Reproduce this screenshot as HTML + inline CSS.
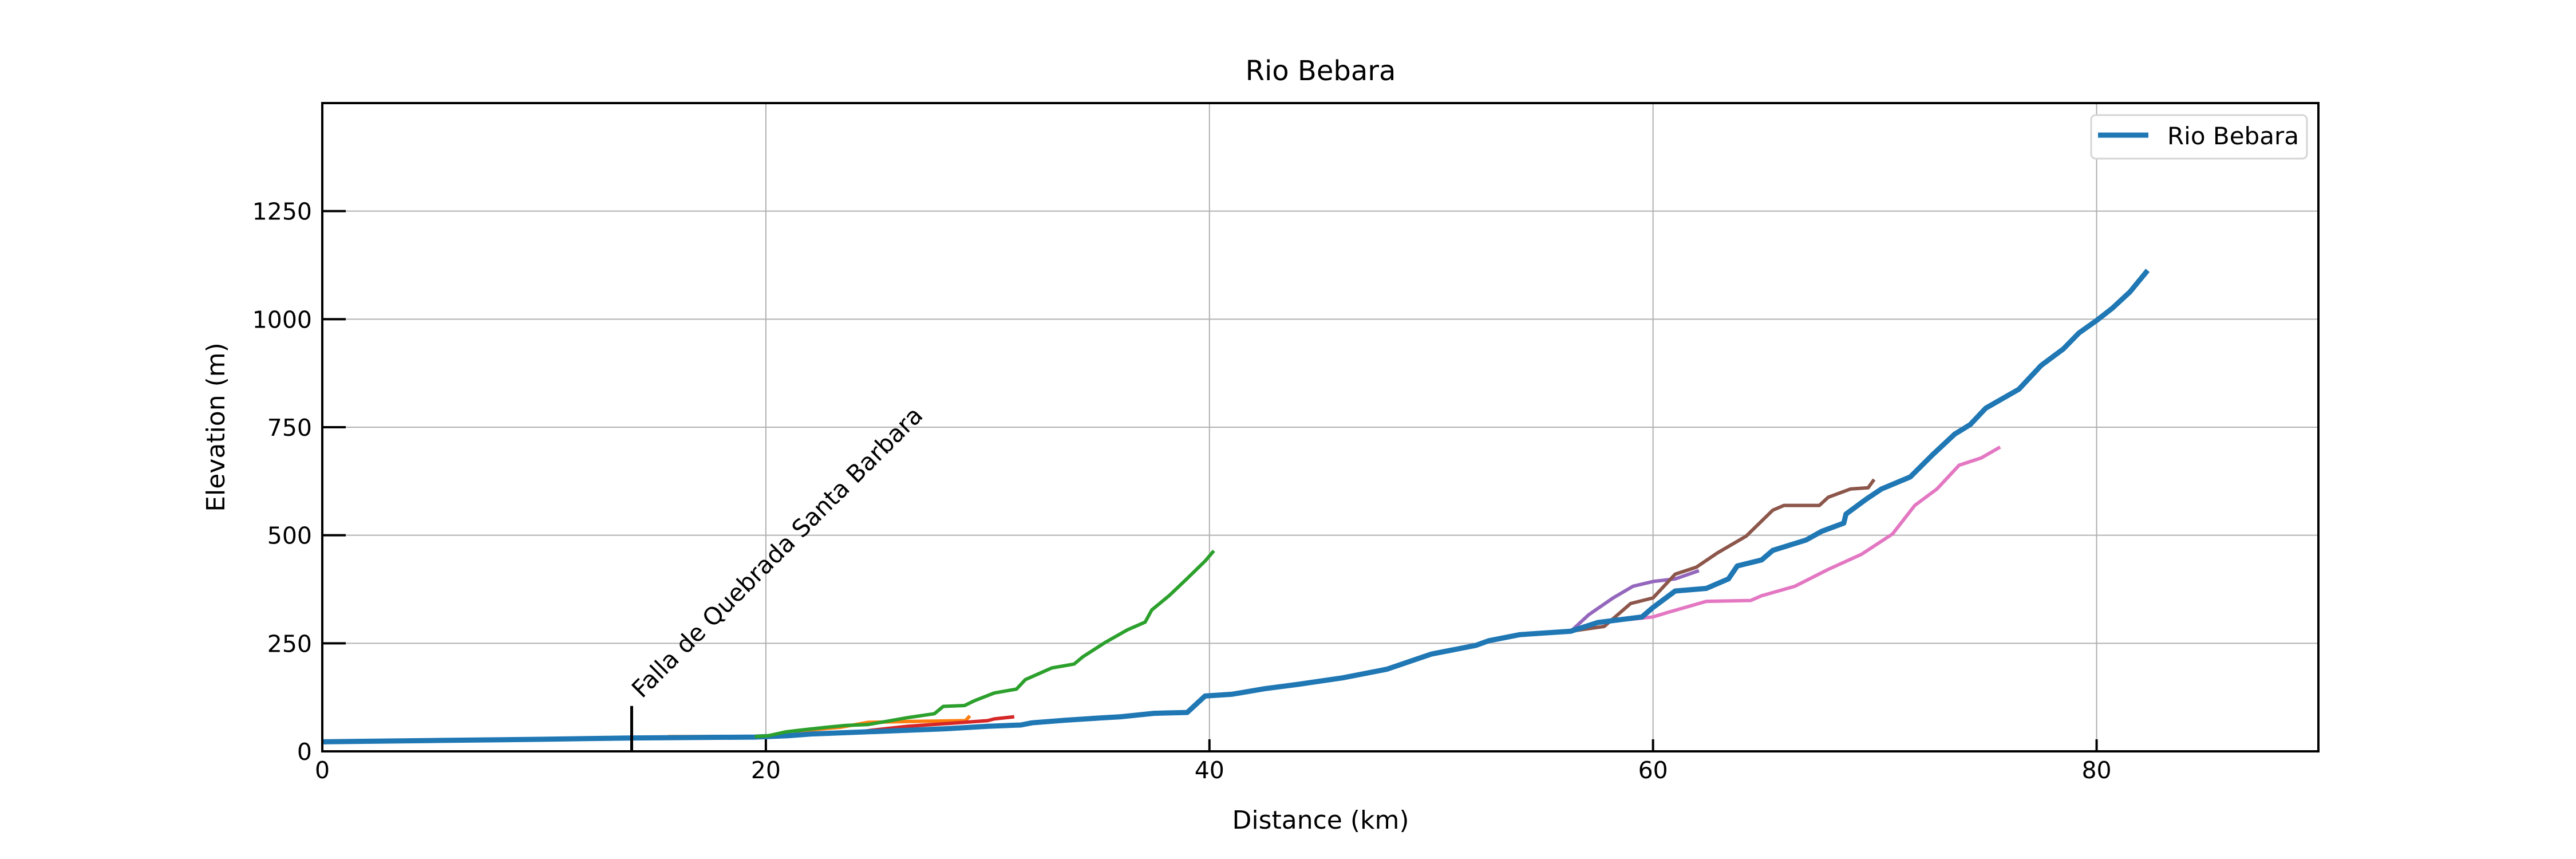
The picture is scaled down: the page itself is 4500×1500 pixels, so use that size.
<!DOCTYPE html>
<html><head><meta charset="utf-8"><style>
html,body{margin:0;padding:0;background:#fff;}
svg{display:block;font-family:"DejaVu Sans","Liberation Sans",sans-serif;}
</style></head><body>
<svg id="chart" width="4500" height="1500" viewBox="0 0 4500 1500" xmlns="http://www.w3.org/2000/svg">
<rect width="4500" height="1500" fill="#fff"/>
<g id="grid"></g>
<g id="series"></g>
<g id="axes"></g>
<text x="2307" y="140" font-size="48" text-anchor="middle">Rio Bebara</text>
<text x="2307" y="1447" font-size="44" text-anchor="middle">Distance (km)</text>
<text x="392" y="746" font-size="44" text-anchor="middle" transform="rotate(-90 392 746)">Elevation (m)</text>
<g>
<rect x="3653" y="201" width="377" height="76" rx="8" fill="#fff" stroke="#d5d5d5" stroke-width="3"/>
<line x1="3665" y1="236" x2="3753" y2="236" stroke="#1f77b4" stroke-width="9"/>
<text x="3786" y="252" font-size="42">Rio Bebara</text>
</g>
</svg>
<script>
const xTicks = [0, 20, 40, 60, 80];
const yTicks = [0, 250, 500, 750, 1000, 1250];
const faultKm = 13.95;
const faultTop = 105;
const faultLabel = "Falla de Quebrada Santa Barbara";
const mainX = [0,5,10,14,19.5,21,22,24,26,28,30,31.5,32,33.5,35,36,37.5,39,39.8,41,42.5,44,46,48,50,52,52.6,54,56.3,57.5,59.5,60,61,62.4,63.4,63.8,64.9,65.4,66.9,67.6,68.6,68.7,69.6,70.3,71.6,72.6,73.6,74.3,75,76.5,77.5,78.5,79.2,80,80.7,81.5,82.3];
const mainY = [22,25,28,31,33,36,40,44,48,52,58,61,66,72,77,80,88,90,128,132,145,155,170,190,225,245,256,270,278,298,311,333,371,377,399,429,443,465,489,509,528,549,583,607,635,686,734,756,794,838,893,931,968,997,1025,1063,1113];
const greenX = [19.5,20.1,20.9,21.9,22.8,23.6,24.6,25.4,26.4,27.6,28,28.96,29.4,30.3,31.3,31.7,32.9,33.9,34.3,35.3,36.3,37.1,37.4,38.2,39,39.8,40.2];
const greenY = [34,36,45,51,56,60,62,69,78,87,104,106,117,135,144,166,193,202,219,252,281,299,327,361,400,440,464];
const orangeX = [15.6,19.5,21.1,21.9,23.4,24.6,26.4,29,29.2];
const orangeY = [34,34,36,49,56,67,69,71,82];
const redX = [23.8,24.8,26.4,28.4,30,30.3,31.2];
const redY = [42,49,58,65,71,75,80];
const purpleX = [56.3,57.1,58.2,59.1,60,61,62.07];
const purpleY = [278,316,355,382,393,399,418];
const brownX = [56.3,57.8,58.99,60,61,61.95,62.9,64.2,65.4,65.9,67.5,67.9,68.9,69.7,69.97];
const brownY = [278,289,342,355,410,426,459,498,558,569,569,588,607,610,629];
const pinkX = [58.9,60,60.7,62.4,64.4,64.9,66.4,67.9,69.4,70.8,71.8,72.8,73.8,74.8,75.65];
const pinkY = [305,311,322,347,349,360,382,421,456,503,569,607,662,679,704];

const L=563,R=4050,T=180,B=1312,XMAX=90,YMAX=1500;
function sx(v){return L+(v/XMAX)*(R-L);}
function sy(v){return B-(v/YMAX)*(B-T);}
const NS="http://www.w3.org/2000/svg";
function mk(tag,attrs,parent){const e=document.createElementNS(NS,tag);for(const k in attrs)e.setAttribute(k,attrs[k]);parent.appendChild(e);return e;}
const grid=document.getElementById('grid'),axes=document.getElementById('axes'),series=document.getElementById('series');
xTicks.forEach(t=>{
  if(t>0){const g=mk('line',{x1:sx(t),x2:sx(t),y1:T,y2:B,stroke:'#b0b0b0','stroke-width':2},grid);
  
  }
  const tk=mk('line',{x1:sx(t),x2:sx(t),y1:B,y2:B-21,stroke:'#000','stroke-width':4},axes);
  
  
  const lb=mk('text',{x:sx(t),y:B+47,'font-size':41,'text-anchor':'middle'},axes);lb.textContent=t;
  
  
});
yTicks.forEach(t=>{
  if(t>0){const g=mk('line',{x1:L,x2:R,y1:sy(t),y2:sy(t),stroke:'#b0b0b0','stroke-width':2},grid);
  
  }
  const tk=mk('line',{x1:L,x2:L+41,y1:sy(t),y2:sy(t),stroke:'#000','stroke-width':4},axes);
  
  
  const lb=mk('text',{x:L-18,y:sy(t)+15,'font-size':41,'text-anchor':'end'},axes);lb.textContent=t;
  
  
});
const fr=mk('rect',{x:L,y:T,width:R-L,height:B-T,fill:'none',stroke:'#000','stroke-width':4},axes);


function line(xs,ys,color,w,name){
  const p=xs.map((x,i)=>sx(x).toFixed(1)+','+sy(ys[i]).toFixed(1)).join(' ');
  const e=mk('polyline',{points:p,fill:'none',stroke:color,'stroke-width':w,'stroke-linejoin':'round'},series);
  
  
}
line(orangeX,orangeY,'#ff7f0e',6,'tributary-orange');
line(redX,redY,'#d62728',6,'tributary-red');
line(purpleX,purpleY,'#9467bd',6,'tributary-purple');
line(brownX,brownY,'#8c564b',6,'tributary-brown');
line(pinkX,pinkY,'#e377c2',6,'tributary-pink');
line(mainX,mainY,'#1f77b4',9,'main-river-line');
line(greenX,greenY,'#2ca02c',6,'tributary-green');
const fl=mk('line',{x1:sx(faultKm),x2:sx(faultKm),y1:B,y2:sy(faultTop),stroke:'#000','stroke-width':5},series);


const ft=mk('text',{x:sx(faultKm)+18,y:sy(faultTop)-12,'font-size':42,transform:'rotate(-45 '+(sx(faultKm)+18)+' '+(sy(faultTop)-12)+')'},series);
ft.textContent=faultLabel;


</script>
</body></html>
